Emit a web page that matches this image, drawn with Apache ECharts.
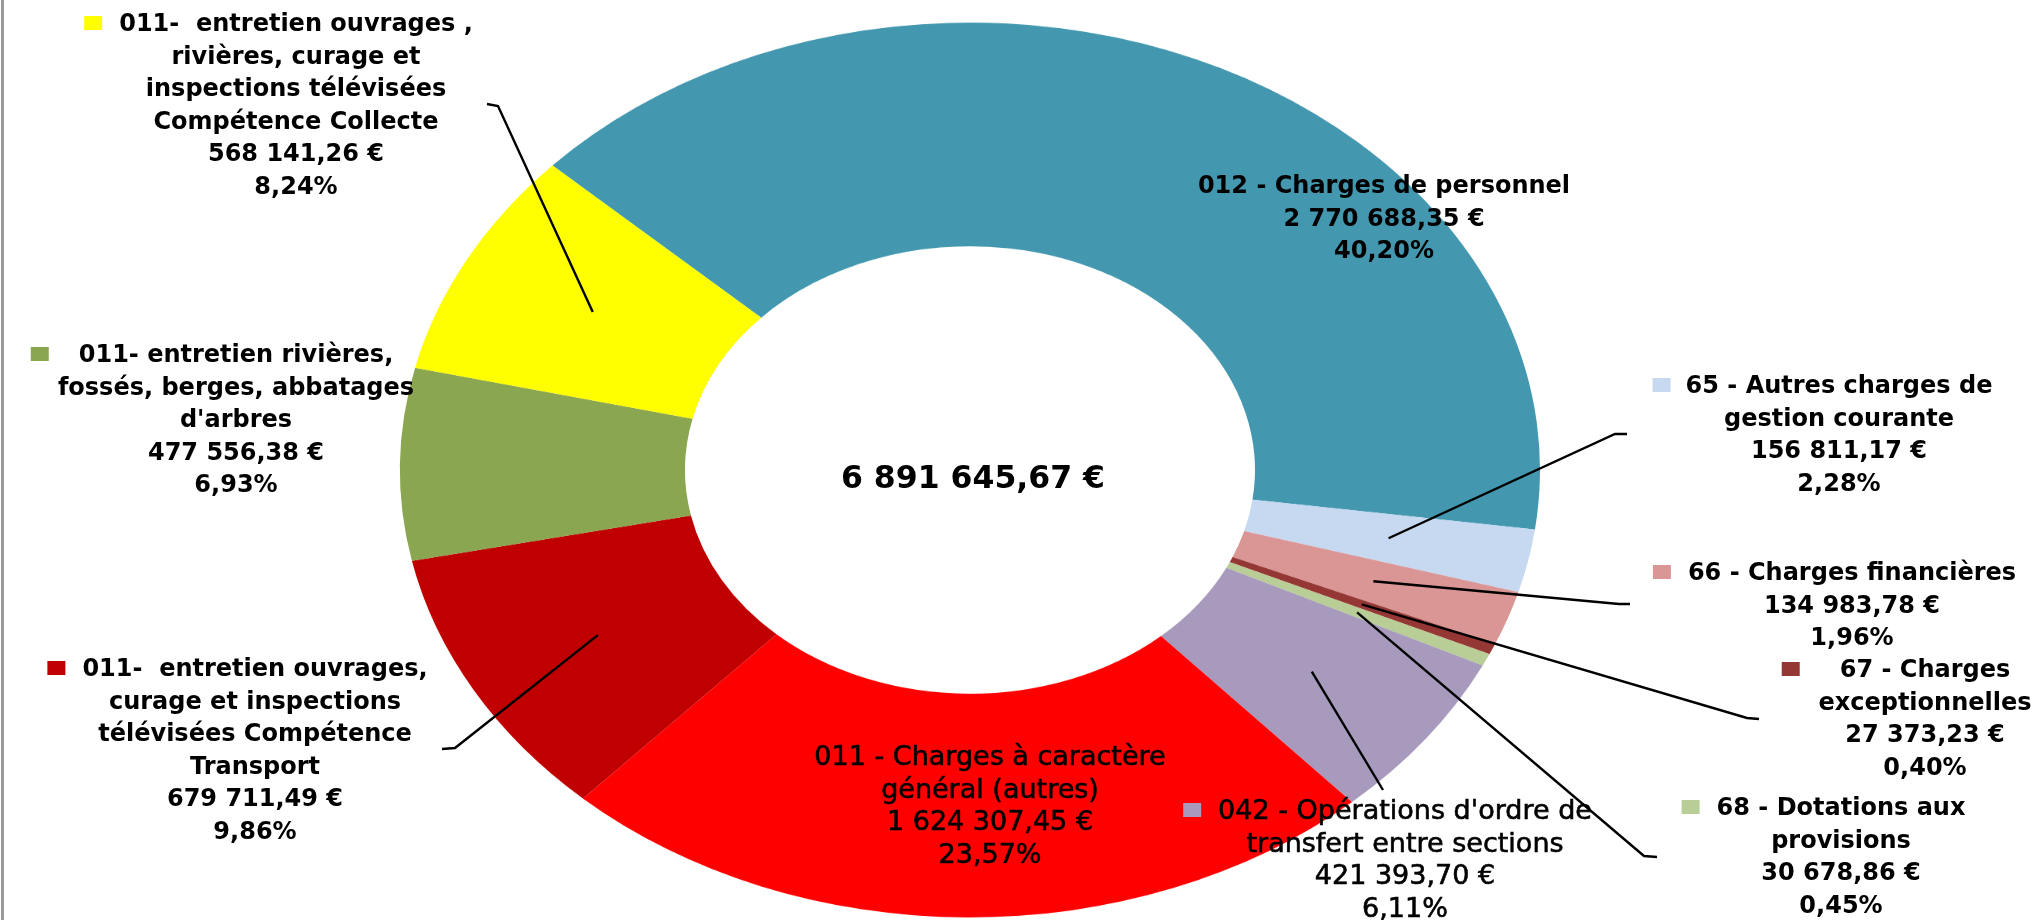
<!DOCTYPE html>
<html>
<head>
<meta charset="utf-8">
<script src="https://cdn.jsdelivr.net/npm/echarts@6/dist/echarts.min.js"></script>
<style>
html,body{margin:0;padding:0;background:#fff;overflow:hidden;}
#wrap{position:relative;width:2039px;height:920px;overflow:hidden;background:#fff;}
#pie{position:absolute;left:0;top:-130px;width:2039px;height:1200px;transform:scaleY(0.785);transform-origin:970px 600px;}
#labels{position:absolute;left:0;top:0;width:2039px;height:920px;}
</style>
</head>
<body>
<div id="wrap"><div id="pie"></div><div id="labels"></div></div>
<script>
// ---------- DATA ----------
const categories = [
  "012 - Charges de personnel",
  "65 - Autres charges de\ngestion courante",
  "66 - Charges financières",
  "67 - Charges\nexceptionnelles",
  "68 - Dotations aux\nprovisions",
  "042 - Opérations d'ordre de\ntransfert entre sections",
  "011 - Charges à caractère\ngénéral (autres)",
  "011-  entretien ouvrages,\ncurage et inspections\ntélévisées Compétence\nTransport",
  "011- entretien rivières,\nfossés, berges, abbatages\nd'arbres",
  "011-  entretien ouvrages ,\nrivières, curage et\ninspections télévisées\nCompétence Collecte"
];
const values = [2770688.35, 156811.17, 134983.78, 27373.23, 30678.86, 421393.70, 1624307.45, 679711.49, 477556.38, 568141.26];

// ---------- STYLE / LAYOUT ----------
const colors = ['#4398B0','#C6D9F1','#DA9694','#953735','#B8CE96','#A89ABD','#FF0000','#C00000','#8BA650','#FFFF00'];
const CX = 970, CY = 470, R_IN = 285, R_OUT = 570, SY = 447.5 / 570;
const START_ANGLE = 137.1;
const FONT = '"DejaVu Sans", "Liberation Sans", sans-serif';
const LH = 32.5;
const labelLayout = [
  {cx:1384, y:187, bold:true},
  {cx:1839, y:387, bold:true, gap:15, pts:[[1615,434],[1627,434]]},
  {cx:1852, y:574, bold:true, gap:17, pts:[[1619,604],[1630,604]]},
  {cx:1925, y:671, bold:true, gap:40, pts:[[1747,718],[1759,719]]},
  {cx:1841, y:809, bold:true, gap:17, pts:[[1644,856],[1657,857]]},
  {cx:1405, y:812, bold:false, gap:17, pts:[[1383,790]]},
  {cx:990,  y:758, bold:false},
  {cx:255,  y:670, bold:true, gap:17, pts:[[455,748],[442,749]]},
  {cx:236,  y:356, bold:true, gap:30},
  {cx:296,  y:25,  bold:true, gap:17, pts:[[498,106],[487,104]]}
];

// ---------- HELPERS ----------
const total = values.reduce((a, b) => a + b, 0);
function fr(n, d) {
  const s = n.toFixed(d);
  let [i, f] = s.split('.');
  i = i.replace(/\B(?=(\d{3})+(?!\d))/g, ' ');
  return f ? i + ',' + f : i;
}
const ctx = document.createElement('canvas').getContext('2d');
function textWidth(t, font) { ctx.font = font; return ctx.measureText(t).width; }

// ---------- PIE ----------
const pie = echarts.init(document.getElementById('pie'), null, {renderer: 'canvas'});
pie.setOption({
  animation: false,
  backgroundColor: 'transparent',
  series: [{
    type: 'pie',
    center: [CX, 600],
    radius: [R_IN, R_OUT],
    startAngle: START_ANGLE,
    clockwise: true,
    silent: true,
    label: {show: false},
    labelLine: {show: false},
    itemStyle: {borderWidth: 0},
    data: categories.map((c, i) => ({name: c, value: values[i], itemStyle: {color: colors[i]}}))
  }]
});

// ---------- LABELS ----------
const elements = [];
elements.push({type: 'rect', shape: {x: 1, y: 0, width: 3, height: 920}, style: {fill: '#9a9a9a'}, silent: true});
elements.push({type: 'text', style: {text: fr(total, 2) + ' €', x: 973, y: 480, align: 'center', verticalAlign: 'middle',
  fontFamily: FONT, fontWeight: 'bold', fontSize: 31.5, fill: '#000'}, silent: true});

let cum = 0;
const start12 = 90 - START_ANGLE; // clockwise degrees from 12 o'clock
values.forEach((v, i) => {
  const a0 = start12 + 360 * cum / total;
  cum += v;
  const a1 = start12 + 360 * cum / total;
  const mid = (a0 + a1) / 2 * Math.PI / 180;
  const L = labelLayout[i];
  const size = L.bold ? 24 : 27;
  const weight = L.bold ? 'bold' : 'normal';
  const text = categories[i] + '\n' + fr(v, 2) + ' €\n' + fr(v / total * 100, 2) + '%';
  const st = {
    text: text, x: L.cx, y: L.y - LH / 2, align: 'center', verticalAlign: 'top',
    fontFamily: FONT, fontWeight: weight, fontSize: size, lineHeight: LH, fill: '#000'};
  if (!L.bold) { st.stroke = '#000'; st.lineWidth = 0.6; }
  elements.push({type: 'text', z: 10, silent: true, style: st});
  if (L.gap !== undefined) {
    const first = categories[i].split('\n')[0];
    const w = textWidth(first, weight + ' ' + size + 'px ' + FONT);
    const kw = 18, kh = 14;
    elements.push({type: 'rect', z: 10, silent: true,
      shape: {x: L.cx - w / 2 - L.gap - kw, y: L.y - 2 - kh / 2, width: kw, height: kh},
      style: {fill: colors[i]}});
  }
  if (L.pts) {
    const r = 0.75 * R_OUT;
    const ax = CX + r * Math.sin(mid), ay = CY - r * SY * Math.cos(mid);
    elements.push({type: 'polyline', z: 5, silent: true,
      shape: {points: [[ax, ay]].concat(L.pts)},
      style: {stroke: '#000', lineWidth: 2.4, fill: null}});
  }
});

const lab = echarts.init(document.getElementById('labels'), null, {renderer: 'canvas'});
lab.setOption({animation: false, backgroundColor: 'transparent', graphic: {elements: elements}});
</script>
</body>
</html>
